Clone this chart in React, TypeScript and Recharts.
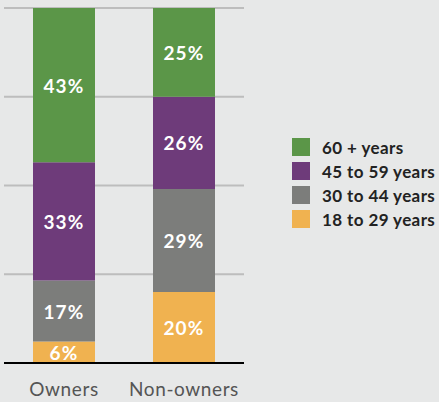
import { BarChart, Bar, XAxis, YAxis, CartesianGrid } from 'recharts';

const categories = ['Owners', 'Non-owners'];
const age18to29 = [6, 20];
const age30to44 = [17, 29];
const age45to59 = [33, 26];
const age60plus = [43, 25];

const seriesNames = ['60 + years', '45 to 59 years', '30 to 44 years', '18 to 29 years'];
const seriesKeys = ['a60', 'a45', 'a30', 'a18'];
const colors: Record<string, string> = {
  a60: '#5b9648',
  a45: '#6e3b7a',
  a30: '#7c7d7b',
  a18: '#f0b250',
};

const data = categories.map((name, i) => ({
  name,
  a18: age18to29[i],
  a30: age30to44[i],
  a45: age45to59[i],
  a60: age60plus[i],
}));

const FONT = 'Lato, "Open Sans", sans-serif';

const makeLabel = (key: string) => (props: any) => {
  const { x, y, width, height, index } = props;
  const v = (data[index] as any)[key];
  return (
    <text
      x={x + width / 2}
      y={y + height / 2}
      textAnchor="middle"
      dominantBaseline="central"
      fill="#fff"
      fontSize={19}
      fontWeight={700}
      fontFamily={FONT}
      letterSpacing={1.2}
    >
      {v}%
    </text>
  );
};

const App = () => {
  return (
    <div style={{ position: 'fixed', left: 0, top: 0, width: 439, height: 402, background: '#e7e8e8' }}>
      <BarChart
        width={439}
        height={402}
        data={data}
        stackOffset="expand"
        margin={{ top: 8, right: 195, bottom: 9, left: 4 }}
      >
        <CartesianGrid vertical={false} stroke="#bdbdbd" strokeWidth={2} />
        <YAxis hide domain={[0, 1]} ticks={[0, 0.25, 0.5, 0.75, 1]} />
        <XAxis
          dataKey="name"
          height={30}
          axisLine={{ stroke: '#000', strokeWidth: 2 }}
          tickLine={false}
          tick={{ fill: '#555', fontSize: 19, fontFamily: FONT, letterSpacing: 0.6 }}
          tickMargin={14}
        />
        {['a18', 'a30', 'a45', 'a60'].map((k) => (
          <Bar
            key={k}
            dataKey={k}
            stackId="s"
            fill={colors[k]}
            barSize={62}
            isAnimationActive={false}
            label={makeLabel(k)}
          />
        ))}
      </BarChart>
      <div style={{ position: 'absolute', left: 292, top: 135, fontFamily: FONT }}>
        {seriesKeys.map((k, i) => (
          <div key={k} style={{ display: 'flex', alignItems: 'center', height: 24 }}>
            <span style={{ width: 18, height: 18, background: colors[k], display: 'inline-block', marginRight: 12 }} />
            <span style={{ fontSize: 17, fontWeight: 700, color: '#222', letterSpacing: 0.4, whiteSpace: 'nowrap' }}>
              {seriesNames[i]}
            </span>
          </div>
        ))}
      </div>
    </div>
  );
};

export default App;
